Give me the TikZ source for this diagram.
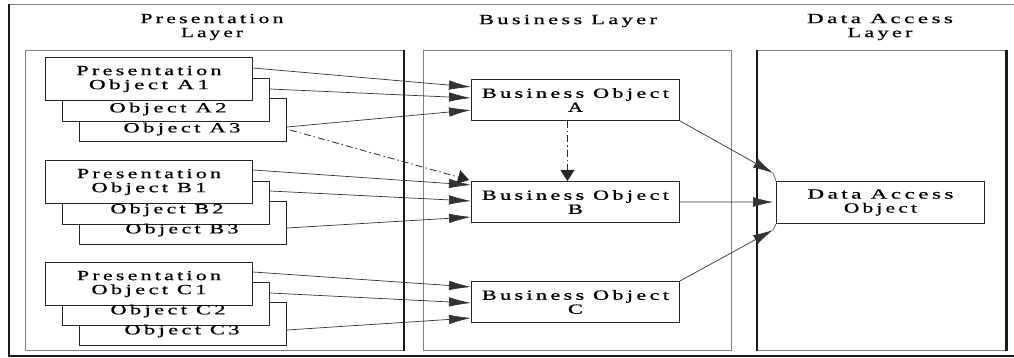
\documentclass[tikz,border=0pt]{standalone}
\usepackage{fontspec}
\setmainfont{Liberation Serif}
\newfontfamily\wf[LetterSpace=15,FakeBold=0.6]{Liberation Serif}
\usetikzlibrary{arrows.meta,calc}
\newcommand\wl[2]{\resizebox{#1}{\height}{#2}}
\begin{document}
\begin{tikzpicture}[x=1pt,y=-1pt,
  every node/.style={font=\wf\fontsize{14}{14}\selectfont, inner sep=0pt, align=center},
  layer/.style={draw=black!50, line width=0.8pt, anchor=north west, minimum height=300pt},
  obj/.style={draw=black!85, line width=1pt, fill=white, anchor=north west, minimum width=207pt, minimum height=43pt},
  bo/.style={draw=black!85, line width=0.9pt, fill=white, anchor=north west, minimum width=208pt, minimum height=41pt},
  arr/.style={draw=black!80, line width=0.7pt, -{Latex[length=22pt,width=9.5pt]}},
  dd/.style={draw=black!85, line width=0.8pt, dash pattern=on 7pt off 3pt on 1.5pt off 3pt, -{Triangle[length=11pt,width=14pt]}}
]
\fill[white] (0,0) rectangle (1014,358);
\useasboundingbox (0,0) rectangle (1014,358);

% outer frame
\draw[black!50, line width=0.8pt] (1014,4) -- (9,4);
\draw[black!90, line width=1.6pt] (9,4) -- (9,356) -- (1014,356);

% layers
\node[layer, minimum width=378pt] (PL) at (25,50) {};
\node[layer, minimum width=308pt] (BL) at (423,50) {};
\node[layer, minimum width=249pt] (DL) at (757,50) {};
\draw[black!90, line width=1.6pt] (PL.north east) -- (PL.south east);
\draw[black!90, line width=1.6pt] (DL.north west) -- (DL.south west);
\draw[black!90, line width=3pt] (DL.north east) -- (DL.south east);

% titles
\node (PLt) at (212,27) {\wl{143pt}{Presentation}\\\wl{62pt}{Layer}};
\node (BLt) at (568,21) {\wl{178pt}{Business Layer}};
\node (DLt) at (880,27) {\wl{146pt}{Data Access}\\\wl{65pt}{Layer}};

% presentation objects A
\node[obj] (A3) at (79,98) {};
\node[obj] (A2) at (62,78) {};
\node[obj] (A1) at (45,57) {\wl{145pt}{Presentation}\\\wl{120pt}{Object A1}};
\node (A2t) at (168,109) {\wl{117pt}{Object A2}};
\node (A3t) at (182,129) {\wl{117pt}{Object A3}};

% B
\node[obj] (B3) at (79,201) {};
\node[obj] (B2) at (62,181) {};
\node[obj] (B1) at (45,160) {\wl{144pt}{Presentation}\\\wl{115pt}{Object B1}};
\node (B2t) at (167,210) {\wl{113pt}{Object B2}};
\node (B3t) at (182,230) {\wl{113pt}{Object B3}};

% C
\node[obj] (C3) at (79,302) {};
\node[obj] (C2) at (62,282) {};
\node[obj] (C1) at (45,262) {\wl{144pt}{Presentation}\\\wl{115pt}{Object C1}};
\node (C2t) at (168,311) {\wl{115pt}{Object C2}};
\node (C3t) at (182,331) {\wl{115pt}{Object C3}};

% business objects
\node[bo] (BA) at (471,79) {\wl{187pt}{Business Object}\\\wl{15pt}{A}};
\node[bo] (BB) at (471,181) {\wl{187pt}{Business Object}\\\wl{15pt}{B}};
\node[bo] (BC) at (471,281) {\wl{187pt}{Business Object}\\\wl{15pt}{C}};

% data access object
\node[bo, minimum height=42pt] (DAO) at (776,181) {\wl{146pt}{Data Access}\\\wl{73pt}{Object}};

% arrows A
\draw[arr] ([yshift=-11pt]A1.north east) -- ([yshift=-8pt]BA.north west);
\draw[arr] ([yshift=-11pt]A2.north east) -- ([yshift=-19pt]BA.north west);
\draw[arr] ([yshift=-29pt]A3.north east) -- ([yshift=-31pt]BA.north west);
\draw[dd] ([yshift=-32pt,xshift=3pt]A3.north east) -- ([xshift=-2pt,yshift=1pt]BB.north west);
% arrows B
\draw[arr] ([yshift=-10pt]B1.north east) -- ([yshift=-4pt]BB.north west);
\draw[arr] ([yshift=-10pt]B2.north east) -- ([yshift=-20pt]BB.north west);
\draw[arr] ([yshift=-27pt]B3.north east) -- ([yshift=-36pt]BB.north west);
% arrows C
\draw[arr] ([yshift=-10pt]C1.north east) -- ([yshift=-6pt]BC.north west);
\draw[arr] ([yshift=-11pt]C2.north east) -- ([yshift=-22pt]BC.north west);
\draw[arr] ([yshift=-28pt]C3.north east) -- ([yshift=-37pt]BC.north west);

% A to B dash-dot
\draw[dd] ([xshift=-8pt]BA.south) -- ([xshift=-8pt]BB.north);

% business to data access
\coordinate (tA) at (773,173);
\coordinate (tB) at (773,202);
\coordinate (tC) at (773,230);
\draw[arr, -{Latex[length=20pt,width=10pt]}] (BA.south east) -- (tA);
\draw[arr, -{Latex[length=20pt,width=10pt]}] (BB.east) -- (tB);
\draw[arr, -{Latex[length=20pt,width=10pt]}] (BC.north east) -- (tC);
\draw[black!60, line width=0.8pt] (tA) -- (DAO.north west);
\draw[black!60, line width=0.8pt] (tC) -- (DAO.south west);
\end{tikzpicture}
\end{document}
